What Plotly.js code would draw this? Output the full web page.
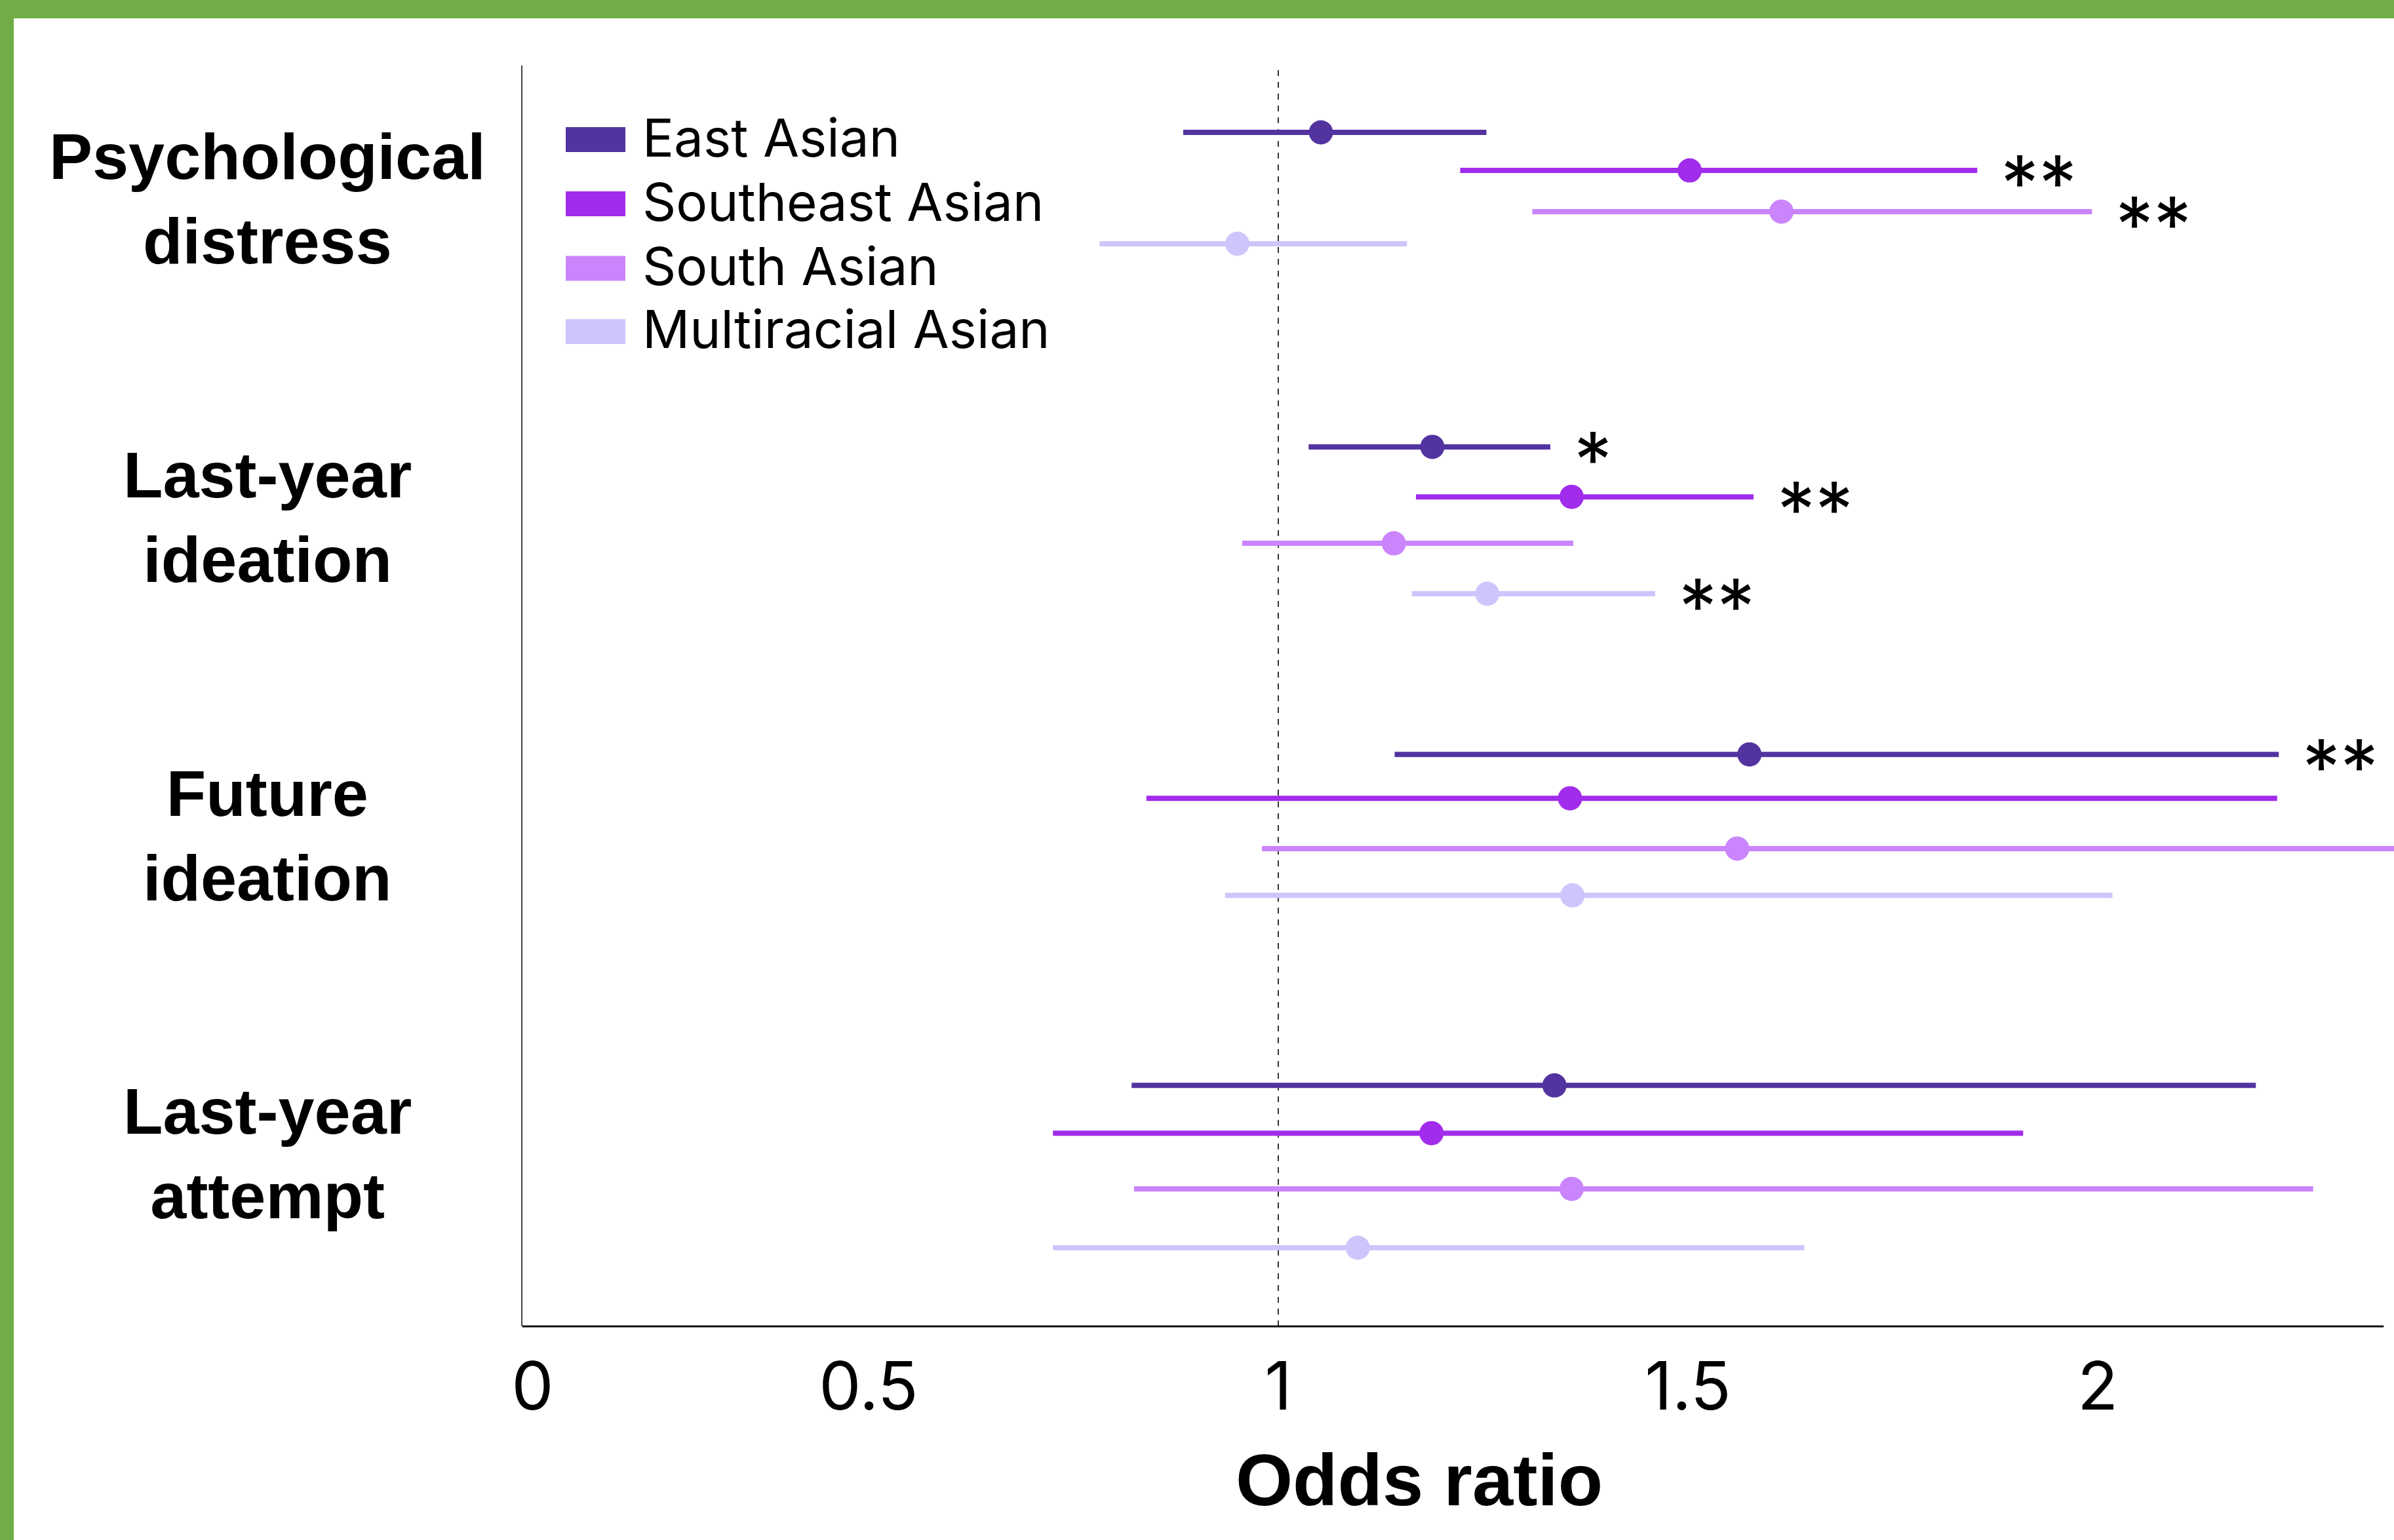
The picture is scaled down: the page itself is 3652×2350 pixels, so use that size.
<!DOCTYPE html>
<html>
<head>
<meta charset="utf-8">
<script src="https://cdn.plot.ly/plotly-3.0.1.min.js"></script>
<style>
  html, body { margin: 0; padding: 0; background: #ffffff; }
  #chart { width: 3652px; height: 2350px; }
</style>
</head>
<body>
<div id="chart"></div>
<script>
// ---------------- DATA ----------------
const categories = ['Psychological<br>distress', 'Last-year<br>ideation', 'Future<br>ideation', 'Last-year<br>attempt'];
const groups = ['East Asian', 'Southeast Asian', 'South Asian', 'Multiracial Asian'];

const eastOR = [1.052, 1.188, 1.575, 1.337];
const eastLo = [0.884, 1.037, 1.142, 0.821];
const eastHi = [1.254, 1.332, 2.221, 2.193];
const eastSig = ['', '*', '**', ''];

const seOR = [1.502, 1.358, 1.356, 1.187];
const seLo = [1.222, 1.168, 0.839, 0.725];
const seHi = [1.853, 1.580, 2.219, 1.909];
const seSig = ['**', '**', '', ''];

const saOR = [1.614, 1.141, 1.560, 1.358];
const saLo = [1.310, 0.956, 0.980, 0.824];
const saHi = [1.993, 1.360, 2.420, 2.263];
const saSig = ['**', '', '', ''];

const mrOR = [0.950, 1.255, 1.359, 1.097];
const mrLo = [0.782, 1.163, 0.935, 0.725];
const mrHi = [1.157, 1.460, 2.018, 1.642];
const mrSig = ['', '**', '', ''];

const xTickVals = [0.09, 0.5, 1, 1.5, 2];
const xTickText = ['0', '0.5', '1', '1.5', '2'];
const refLine = 1;

// ---------------- LAYOUT / STYLE ----------------
const colors = ['#5233A0', '#A12CEB', '#CA84FC', '#CDC6FC'];
const series = [
  {name: groups[0], or: eastOR, lo: eastLo, hi: eastHi, sig: eastSig, color: colors[0]},
  {name: groups[1], or: seOR,   lo: seLo,   hi: seHi,   sig: seSig,   color: colors[1]},
  {name: groups[2], or: saOR,   lo: saLo,   hi: saHi,   sig: saSig,   color: colors[2]},
  {name: groups[3], or: mrOR,   lo: mrLo,   hi: mrHi,   sig: mrSig,   color: colors[3]}
];
// vertical dodge of each series within a category row (category units)
const dodge = [
  [-0.208, -0.0885, 0.041, 0.142],
  [-0.220, -0.063, 0.083, 0.2415],
  [-0.254, -0.116, 0.042, 0.189],
  [-0.214, -0.064, 0.111, 0.296]
];

const W = 3652, H = 2350;
const PLOT = {l: 797, r: 3652, t: 100, b: 2024};
const px = x => (x - PLOT.l) / (PLOT.r - PLOT.l);
const py = y => (PLOT.b - y) / (PLOT.b - PLOT.t);

const XRANGE = [0.0776, 2.3616];
const XAXIS_END = 2.349;
const YRANGE = [3.543, -0.418];

const regFont = 'Inter, "Liberation Sans", Arial, sans-serif';
const boldFont = '"Liberation Sans", Arial, Helvetica, sans-serif';

const traces = [];
const annotations = [];

series.forEach((s, si) => {
  const lx = [], ly = [];
  categories.forEach((c, ci) => {
    const yy = ci + dodge[ci][si];
    lx.push(s.lo[ci], s.hi[ci], null);
    ly.push(yy, yy, null);
  });
  traces.push({
    type: 'scatter', mode: 'lines', x: lx, y: ly,
    line: {color: s.color, width: 8},
    hoverinfo: 'skip', showlegend: false, connectgaps: false
  });
});
series.forEach((s, si) => {
  traces.push({
    type: 'scatter', mode: 'markers', name: s.name,
    x: s.or, y: categories.map((c, ci) => ci + dodge[ci][si]),
    marker: {color: s.color, size: 37, line: {width: 0}},
    showlegend: false, cliponaxis: false
  });
});

// significance stars
series.forEach((s, si) => {
  s.sig.forEach((txt, ci) => {
    if (!txt) return;
    annotations.push({
      x: s.hi[ci], y: ci + dodge[ci][si], xref: 'x', yref: 'y',
      text: txt, showarrow: false, xanchor: 'left', yanchor: 'middle',
      xshift: 34, yshift: -19,
      font: {family: regFont, size: 116, color: '#000'}
    });
  });
});

// category labels
categories.forEach((c, ci) => {
  annotations.push({
    x: px(408), y: ci, xref: 'paper', yref: 'y',
    text: c, showarrow: false, xanchor: 'center', yanchor: 'middle', align: 'center',
    font: {family: boldFont, size: 99, color: '#000', weight: 'bold'}
  });
});

// manual legend
const shapes = [];
const legendRows = [213, 311, 409.5, 506];
series.forEach((s, si) => {
  const cy = legendRows[si];
  shapes.push({
    type: 'rect', xref: 'paper', yref: 'paper',
    x0: px(863), x1: px(954), y0: py(cy + 19), y1: py(cy - 19),
    fillcolor: s.color, line: {width: 0}, layer: 'above'
  });
  annotations.push({
    x: px(978), y: py(cy - 4), xref: 'paper', yref: 'paper',
    text: s.name, showarrow: false, xanchor: 'left', yanchor: 'middle',
    font: {family: regFont, size: 80, color: '#000'}
  });
});

// axis title
annotations.push({
  x: px(2165), y: py(2258), xref: 'paper', yref: 'paper',
  text: 'Odds ratio', showarrow: false, xanchor: 'center', yanchor: 'middle',
  font: {family: boldFont, size: 112, color: '#000', weight: 'bold'}
});

// reference line, x axis line, green frame
shapes.push({
  type: 'line', xref: 'x', yref: 'paper', x0: refLine, x1: refLine, y0: 0, y1: 1,
  line: {color: '#333', width: 2, dash: 'dash'}, layer: 'below'
});
shapes.push({
  type: 'line', xref: 'x', yref: 'paper', x0: XRANGE[0], x1: XAXIS_END, y0: 0, y1: 0,
  line: {color: '#111', width: 3}, layer: 'above'
});
shapes.push({
  type: 'rect', xref: 'paper', yref: 'paper',
  x0: px(0), x1: px(W), y0: py(28), y1: py(0),
  fillcolor: '#70AD47', line: {width: 0}, layer: 'above'
});
shapes.push({
  type: 'rect', xref: 'paper', yref: 'paper',
  x0: px(0), x1: px(21), y0: py(H), y1: py(0),
  fillcolor: '#70AD47', line: {width: 0}, layer: 'above'
});

const layout = {
  width: W, height: H,
  margin: {l: PLOT.l, r: W - PLOT.r, t: PLOT.t, b: H - PLOT.b, pad: 0},
  paper_bgcolor: '#ffffff', plot_bgcolor: '#ffffff',
  showlegend: false,
  xaxis: {
    range: XRANGE, showgrid: false, zeroline: false, showline: false,
    tickmode: 'array', tickvals: xTickVals, ticktext: xTickText,
    ticks: '', ticklabelstandoff: 24,
    tickfont: {family: regFont, size: 102, color: '#000'},
    fixedrange: true
  },
  yaxis: {
    range: YRANGE, showgrid: false, zeroline: false,
    showline: true, linecolor: '#444', linewidth: 2,
    showticklabels: false, ticks: '', fixedrange: true
  },
  shapes: shapes,
  annotations: annotations
};

Plotly.newPlot('chart', traces, layout, {displayModeBar: false, staticPlot: true});
</script>
</body>
</html>
